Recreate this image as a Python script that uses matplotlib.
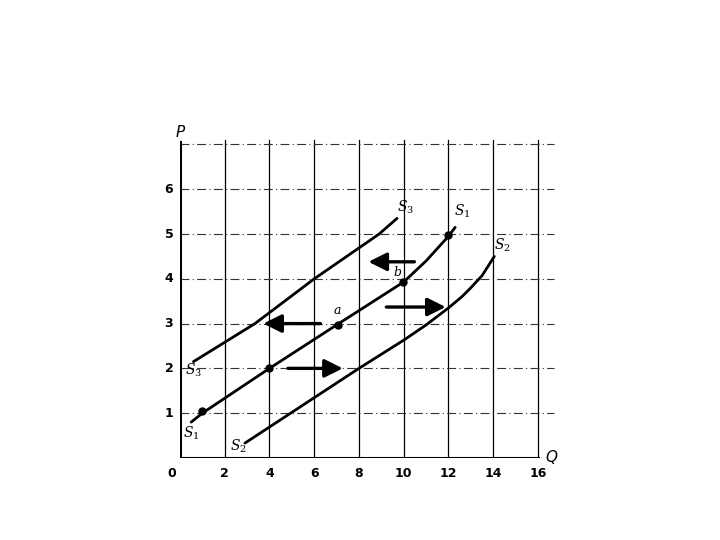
import matplotlib
matplotlib.use('Agg')
import matplotlib.pyplot as plt

# Supply curves (quantity, price)
s1_q = [0.5, 1, 4, 7, 10, 11, 12, 12.3]
s1_p = [0.8, 1.0, 2.0, 2.97, 3.93, 4.4, 4.95, 5.15]

s2_q = [2.9, 8, 10, 11, 12, 12.6, 13, 13.5, 14.05]
s2_p = [0.33, 2.0, 2.63, 2.97, 3.35, 3.6, 3.8, 4.07, 4.5]

s3_q = [0.6, 3.35, 6.0, 8.9, 9.7]
s3_p = [2.15, 3.0, 4.0, 5.0, 5.35]

# marked points on S1
pt_q = [1, 4, 7.05, 9.95, 12]
pt_p = [1.05, 2, 2.97, 3.93, 4.98]

x_ticks = [0, 2, 4, 6, 8, 10, 12, 14, 16]
y_ticks = [1, 2, 3, 4, 5, 6]

# shift arrows: (start q, end q, price)
arrows = [(10.6, 8.3, 4.38), (6.4, 3.6, 3.0), (9.1, 12.0, 3.37), (4.7, 7.4, 2.0)]

plt.rcParams['mathtext.fontset'] = 'dejavuserif'

fig = plt.figure(figsize=(7.2, 5.4), dpi=100)
ax = fig.add_axes([0.25, 0.152, 0.522, 0.597])
ax.set_xlim(0, 16.8)
ax.set_ylim(0, 7.2)
ax.axis('off')

# grid
for q in x_ticks[1:]:
    ax.plot([q, q], [0, 7.1], color='black', lw=0.9)
for p in y_ticks + [7]:
    ax.plot([0, 16.7], [p, p], color='#333333', lw=0.8, ls=(0, (8, 3, 1, 3)))

# axes
ax.plot([0, 0], [0, 7.05], color='black', lw=2.2)
ax.plot([0, 16], [0, 0], color='black', lw=2.2)
ax.plot([16, 16.3], [0, 0], color='black', lw=0.8)
ax.text(0, 7.1, 'P', fontsize=11, style='italic', ha='center', va='bottom')
ax.text(16.35, 0, 'Q', fontsize=11, style='italic', ha='left', va='center')

for q in x_ticks:
    ax.text(q - (0.35 if q == 0 else 0), -0.2, str(q), fontsize=9, fontweight='bold',
            ha='center', va='top')
for p in y_ticks:
    ax.text(-0.3, p, str(p), fontsize=9, fontweight='bold', ha='right', va='center')

# curves
for qs, ps in [(s1_q, s1_p), (s2_q, s2_p), (s3_q, s3_p)]:
    ax.plot(qs, ps, color='black', lw=2.0, solid_capstyle='round')
ax.plot(pt_q, pt_p, 'o', color='black', ms=5)

# arrows
for q0, q1, p in arrows:
    ax.annotate('', xy=(q1, p), xytext=(q0, p),
                arrowprops=dict(arrowstyle='-|>,head_length=1.1,head_width=0.55',
                                color='black', lw=2.4))

# labels
ax.text(7.05, 3.15, 'a', fontsize=9, style='italic', family='serif', ha='center', va='bottom')
ax.text(9.7, 4.0, 'b', fontsize=9, style='italic', family='serif', ha='center', va='bottom')
lab = dict(fontsize=10, ha='center', va='center')
ax.text(10.1, 5.6, r'$S_3$', **lab)
ax.text(12.6, 5.5, r'$S_1$', **lab)
ax.text(14.4, 4.75, r'$S_2$', **lab)
ax.text(0.6, 1.95, r'$S_3$', **lab)
ax.text(0.5, 0.55, r'$S_1$', **lab)
ax.text(2.6, 0.25, r'$S_2$', **lab)

fig.savefig('out.png', dpi=100)
